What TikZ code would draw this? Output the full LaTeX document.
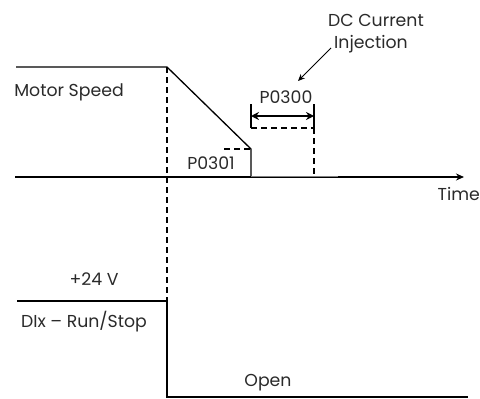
\documentclass[tikz,border=0pt]{standalone}
\usepackage{fontspec}
\setmainfont{Poppins}
\usetikzlibrary{arrows.meta}
\definecolor{txt}{HTML}{2a2a2a}
\begin{document}
\begin{tikzpicture}[x=1pt,y=-1pt,
  lbl/.style={font=\fontsize{17.3}{19}\selectfont, text=txt, inner sep=0pt},
  sig/.style={line width=1.3pt},
  dsh/.style={line width=1.8pt, dash pattern=on 6pt off 4pt},
  axis/.style={line width=1.8pt, -{Stealth[length=8pt,width=7pt]}},
  dim/.style={line width=1.8pt, {Stealth[length=8pt,width=8pt]}-{Stealth[length=8pt,width=8pt]}},
  tick/.style={line width=1.2pt}]
\useasboundingbox (0,0) rectangle (480,399);
% coordinates
\coordinate (s0) at (16,67);
\coordinate (s1) at (167,67);
\coordinate (s2) at (251,149);
\coordinate (s3) at (251,176);
\coordinate (s4) at (338,176);
\coordinate (ax0) at (15,177);
\coordinate (ax1) at (464,177);
\coordinate (d0) at (167,67);
\coordinate (d1) at (167,301);
\coordinate (p1a) at (224,149);
\coordinate (ta) at (251,104);
\coordinate (tb) at (314,104);
\coordinate (tbb) at (314,128);
\coordinate (rb) at (314,177);
\coordinate (ra) at (251,128);
\coordinate (aa) at (251,116);
\coordinate (ab) at (314,116);
\coordinate (dc0) at (331,48);
\coordinate (dc1) at (298,81);
\coordinate (b0) at (17,301);
\coordinate (b1) at (167,301);
\coordinate (b2) at (167,397);
\coordinate (b3) at (468,397);
% axis
\draw[axis] (ax0) -- (ax1);
% speed curve
\draw[sig] (s0) -- (s1) -- (s2) -- (s3);
\draw[line width=1pt, gray] (s3) -- (s4);
% dashed lines
\draw[dsh] (d0) -- (d1);
\draw[dsh] (p1a) -- (s2);
\draw[dsh] (ra) -- (tbb);
\draw[dsh] (tbb) -- (rb);
% ticks
\draw[tick] (ta) -- (ra);
\draw[tick] (tb) -- (tbb);
% P0300 dimension
\draw[dim] (aa) -- (ab);
% DC injection arrow
\draw[line width=0.9pt, -{Stealth[length=7pt,width=6pt]}] (dc0) -- (dc1);
% run/stop signal
\draw[sig] (b0) -- (b1) -- (b2) -- (b3);
% labels
\node[lbl] (ms) at (69,92) {Motor Speed};
\node[lbl] (p300) at (286,97) {P0300};
\node[lbl] (p301) at (211,163) {P0301};
\node[lbl] (dc) at (376,20) {DC Current};
\node[lbl] (inj) at (371,44) {Injection};
\node[lbl, anchor=east] (time) at (480,194) {Time};
\node[lbl] (v24) at (94,279) {+24 V};
\node[lbl] (dix) at (84,322) {DIx – Run/Stop};
\node[lbl] (open) at (268,383) {Open};
\end{tikzpicture}
\end{document}
